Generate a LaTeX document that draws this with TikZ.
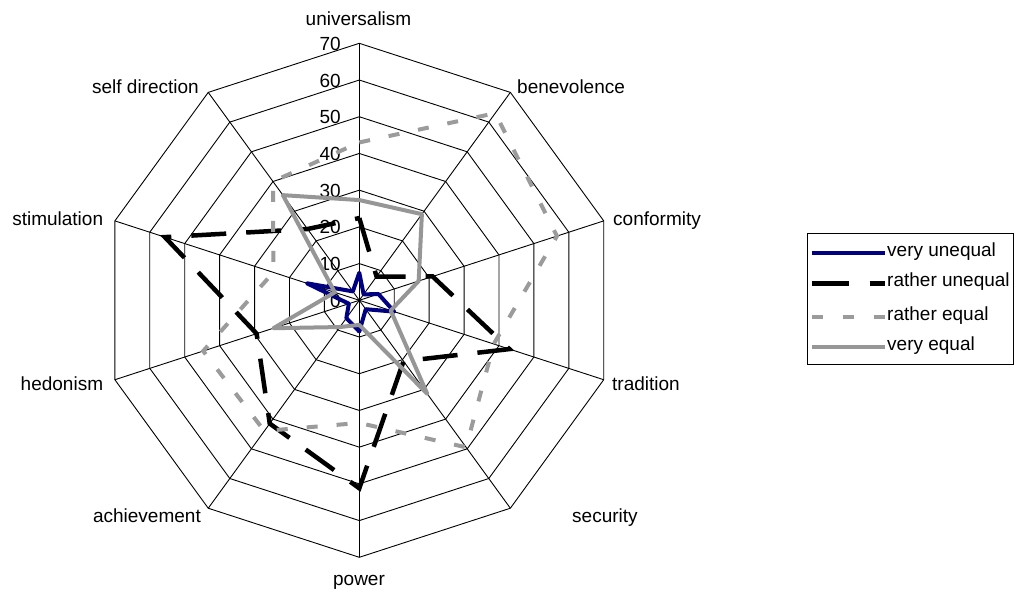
\documentclass[tikz,border=0pt]{standalone}
\usepackage{fontspec}
\setmainfont{Liberation Sans}
\usetikzlibrary{calc}
\definecolor{navy}{RGB}{0,0,128}
\definecolor{reqcol}{RGB}{155,155,155}
\definecolor{veqcol}{RGB}{150,150,150}
\begin{document}
\begin{tikzpicture}[x=1pt,y=1pt,
  grid/.style={draw=black,line width=0.9pt},
  lbl/.style={font=\fontsize{19}{22}\selectfont,inner sep=0pt},
  vu/.style={draw=navy,line width=4pt,line join=round},
  ru/.style={draw=black,line width=4.5pt,dash pattern=on 35pt off 20pt},
  re/.style={draw=reqcol,line width=4pt,dash pattern=on 11pt off 19pt},
  veq/.style={draw=veqcol,line width=4pt,line join=round}]
\fill[white] (0,0) rectangle (1026,-592);
\useasboundingbox (0,0) rectangle (1026,-592);
\coordinate (c) at (359.3,-300.3);
\begin{scope}[shift={(c)}]
  % grid rings
  \foreach \k in {1,...,7} {
    \draw[grid] (90:\k*36.714) \foreach \i in {1,...,9} { -- (90-36*\i:\k*36.714) } -- cycle;
  }
  \foreach \i in {0,...,9} { \coordinate (o\i) at (90-36*\i:257); }
  % series points
  \foreach \v [count=\i from 0] in {7.5,2,5.5,10,3,8.5,6,3,15,3}
    { \coordinate (a\i) at (90-36*\i:\v*3.6714); }
  \foreach \v [count=\i from 0] in {22.4,8,21,43,20.5,51.2,41.5,29.4,55.7,24}
    { \coordinate (b\i) at (90-36*\i:\v*3.6714); }
  \foreach \v [count=\i from 0] in {43,63,56.6,38.5,49.5,33.4,44,44.7,24.6,40}
    { \coordinate (d\i) at (90-36*\i:\v*3.6714); }
  \foreach \v [count=\i from 0] in {27.3,29,17,9,31.5,6.7,9,24.6,7,35.4}
    { \coordinate (e\i) at (90-36*\i:\v*3.6714); }
\end{scope}
\foreach \i in {0,...,9} { \draw[grid] (c) -- (o\i); }
% value labels
\foreach \k in {0,...,7} {
  \pgfmathsetmacro{\yy}{-(307.3-36.714*\k)}
  \pgfmathtruncatemacro{\val}{10*\k}
  \node[lbl,anchor=base east] (t\k) at (341,\yy) {\val};
}
% series
\draw[vu] (a0) -- (a1) -- (a2) -- (a3) -- (a4) -- (a5) -- (a6) -- (a7) -- (a8) -- (a9) -- cycle;
\draw[ru] (b0) -- (b1) -- (b2) -- (b3) -- (b4) -- (b5) -- (b6) -- (b7) -- (b8) -- (b9) -- cycle;
\draw[re] (d0) -- (d1) -- (d2) -- (d3) -- (d4) -- (d5) -- (d6) -- (d7) -- (d8) -- (d9) -- cycle;
\draw[veq] (e0) -- (e1) -- (e2) -- (e3) -- (e4) -- (e5) -- (e6) -- (e7) -- (e8) -- (e9) -- cycle;
% category labels
\node[lbl,anchor=base] (lu) at (358.5,-25) {universalism};
\node[lbl,anchor=base west] (lb) at (517,-93) {benevolence};
\node[lbl,anchor=base west] (lc) at (613,-225) {conformity};
\node[lbl,anchor=base west] (lt) at (612,-390) {tradition};
\node[lbl,anchor=base west] (ls) at (572,-522) {security};
\node[lbl,anchor=base] (lp) at (359,-585) {power};
\node[lbl,anchor=base east] (la) at (201,-522) {achievement};
\node[lbl,anchor=base east] (lh) at (103.3,-390) {hedonism};
\node[lbl,anchor=base east] (lst) at (103.3,-225) {stimulation};
\node[lbl,anchor=base east] (lsd) at (199,-93) {self direction};
% legend
\node[draw=black,line width=0.9pt,minimum width=206.6pt,minimum height=130.7pt,anchor=north west,inner sep=0pt] (leg) at (806.7,-233.3) {};
\coordinate (s1a) at (811.7,-253.3); \coordinate (s1b) at (885,-253.3);
\coordinate (s2a) at (811.7,-283.3); \coordinate (s2b) at (885,-283.3);
\coordinate (s3a) at (811.7,-316.7); \coordinate (s3b) at (885,-316.7);
\coordinate (s4a) at (811.7,-346.7); \coordinate (s4b) at (885,-346.7);
\draw[vu] (s1a) -- (s1b);
\draw[ru,dash pattern=on 37pt off 21pt] (s2a) -- (s2b);
\draw[re,dash pattern=on 11pt off 20pt] (s3a) -- (s3b);
\draw[veq] (s4a) -- (s4b);
\node[lbl,anchor=mid west] (g1) at ($(s1b)+(2,-1)$) {very unequal};
\node[lbl,anchor=mid west] (g2) at ($(s2b)+(2,-1)$) {rather unequal};
\node[lbl,anchor=mid west] (g3) at ($(s3b)+(2,-1)$) {rather equal};
\node[lbl,anchor=mid west] (g4) at ($(s4b)+(2,-1)$) {very equal};
\end{tikzpicture}
\end{document}
